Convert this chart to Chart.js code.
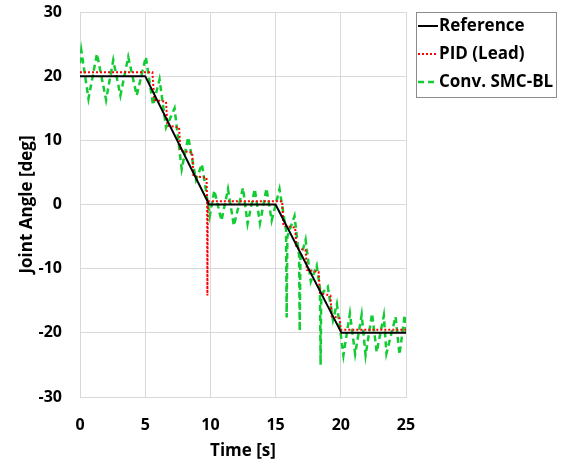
<!DOCTYPE html>
<html>
<head>
<meta charset="utf-8">
<script src="https://cdn.jsdelivr.net/npm/chart.js@4/dist/chart.umd.min.js"></script>
<style>
  html, body { margin: 0; padding: 0; background: #fff; }
  #wrap { width: 571px; height: 465px; }
</style>
</head>
<body>
<div id="wrap"><canvas id="angleChart" width="571" height="465"></canvas></div>
<script>
// reference trajectory
const refTime = [0, 5, 9.9, 15, 20.05, 25];
const refAngle = [20, 20, 0, 0, -20, -20];

// PID (Lead) response
const pidTime = [0, 5.55, 5.7, 6.6, 6.7, 7.6, 7.7, 8.6, 8.7, 9.7, 9.75, 9.77, 9.8, 15.5,
  15.6, 16.5, 16.6, 17.3, 17.4, 18.3, 18.4, 19.2, 19.3, 19.9, 20.0, 25];
const pidAngle = [20.6, 20.6, 16.3, 16.0, 12.3, 12.0, 8.4, 8.1, 4.4, 4.2, 0.5, -14.2, 0.5, 0.5,
  -3.3, -3.6, -6.8, -7.1, -10.2, -10.5, -13.8, -14.2, -17.4, -17.7, -19.5, -19.5];

// conventional SMC-BL response
const smcTime = [0, 0.1, 0.65, 1.3, 2.0, 2.55, 3.1, 3.7, 4.35, 5.05, 5.6, 6.1, 6.6, 7.25,
  7.8, 8.3, 8.9, 9.35, 9.95, 10.3, 10.85, 11.35, 11.8, 12.5, 12.85, 13.4, 13.8, 14.3,
  14.7, 15.3, 15.8, 15.85, 15.9, 16.45, 16.8, 16.85, 16.9, 17.3, 17.7, 18.15, 18.4,
  18.45, 18.5, 19.0, 19.4, 19.7, 20.2, 20.7, 21.1, 21.6, 21.9, 22.4, 22.75, 23.3, 23.5,
  24.2, 24.5, 24.9, 25];
const smcAngle = [22, 24, 16.5, 23.5, 16.3, 22.5, 17, 23, 17, 23, 15.5, 19.5, 12, 15,
  5.5, 10.5, 3.8, 6.3, -1.8, 2.2, -2.5, 2.4, -3.3, 2.6, -3, 2.4, -2.9, 2.5,
  -2.5, 2.4, -4, -17.6, -5, -1.8, -8, -19.7, -8.5, -5.5, -12, -9.5, -13,
  -25, -14, -12.8, -18, -15.5, -23.5, -17, -23.3, -17.2, -23.5, -17, -23, -17.3, -23.2,
  -17.5, -23.4, -17.2, -20];

const xTicks = [0, 5, 10, 15, 20, 25];
const yTicks = [-30, -20, -10, 0, 10, 20, 30];

const FONT = '"Open Sans", "DejaVu Sans", sans-serif';
const GRID = "#d9d9d9";

function toPoints(xs, ys) {
  return xs.map((x, i) => ({ x: x, y: ys[i] }));
}

// legend with a frame, drawn next to the plot
const framedLegend = {
  id: "framedLegend",
  afterDraw(chart) {
    const ctx = chart.ctx;
    const area = chart.chartArea;
    const left = area.right + 10;
    const top = area.top;
    ctx.save();
    ctx.strokeStyle = "#8c8c8c";
    ctx.lineWidth = 1;
    ctx.strokeRect(left + 0.5, top + 0.5, 140, 85);
    chart.data.datasets.forEach((ds, i) => {
      const y = top + 14 + i * 28;
      ctx.beginPath();
      ctx.setLineDash(ds.borderDash || []);
      ctx.strokeStyle = ds.borderColor;
      ctx.lineWidth = ds.borderWidth;
      ctx.moveTo(left + 2, y);
      ctx.lineTo(left + 22, y);
      ctx.stroke();
      ctx.setLineDash([]);
      ctx.fillStyle = "#000";
      ctx.font = "bold 17px " + FONT;
      ctx.textBaseline = "middle";
      ctx.fillText(ds.label, left + 23, y);
    });
    ctx.restore();
  },
};

const ctx = document.getElementById("angleChart");
new Chart(ctx, {
  type: "line",
  data: {
    datasets: [
      {
        label: "Reference",
        data: toPoints(refTime, refAngle),
        borderColor: "#000000",
        borderWidth: 2,
      },
      {
        label: "PID (Lead)",
        data: toPoints(pidTime, pidAngle),
        borderColor: "#ff0000",
        borderWidth: 2,
        borderDash: [2, 2],
      },
      {
        label: "Conv. SMC-BL",
        data: toPoints(smcTime, smcAngle),
        borderColor: "#11cc33",
        borderWidth: 2.5,
        borderDash: [6, 4],
      },
    ],
  },
  options: {
    responsive: false,
    animation: false,
    layout: {
      padding: { left: 0, right: 165, top: 12, bottom: 0 },
    },
    elements: {
      point: { radius: 0 },
      line: { tension: 0, fill: false },
    },
    scales: {
      x: {
        type: "linear",
        min: 0,
        max: 25,
        afterBuildTicks: (scale) => {
          scale.ticks = xTicks.map((v) => ({ value: v }));
        },
        afterFit: (scale) => {
          scale.height = 68;
        },
        grid: { color: GRID, lineWidth: 1, drawTicks: false },
        border: { display: true, color: GRID },
        ticks: {
          padding: 19,
          color: "#000",
          font: { family: FONT, size: 16, weight: "bold" },
          maxRotation: 0,
        },
        title: {
          display: true,
          text: "Time [s]",
          color: "#000",
          font: { family: FONT, size: 17, weight: "bold" },
          padding: { top: 0, bottom: 4 },
        },
      },
      y: {
        min: -30,
        max: 30,
        afterBuildTicks: (scale) => {
          scale.ticks = yTicks.map((v) => ({ value: v }));
        },
        afterFit: (scale) => {
          scale.width = 80;
          scale.paddingTop = 0;
          scale.paddingBottom = 0;
        },
        grid: { color: GRID, lineWidth: 1, drawTicks: false },
        border: { display: true, color: GRID },
        ticks: {
          padding: 18,
          color: "#000",
          font: { family: FONT, size: 16, weight: "bold" },
        },
        title: {
          display: true,
          text: "Joint Angle [deg]",
          color: "#000",
          font: { family: FONT, size: 17, weight: "bold" },
          padding: { top: 17, bottom: 0 },
        },
      },
    },
    plugins: {
      legend: { display: false },
      tooltip: { enabled: false },
    },
  },
  plugins: [framedLegend],
});
</script>
</body>
</html>
